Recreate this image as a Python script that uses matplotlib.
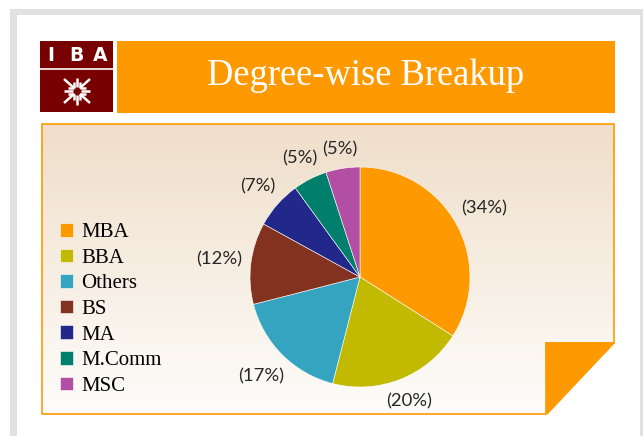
import matplotlib
matplotlib.use("Agg")
import matplotlib.pyplot as plt
import numpy as np
from matplotlib.patches import Rectangle, Polygon

degrees = ["MBA", "BBA", "Others", "BS", "MA", "M.Comm", "MSC"]
shares = [34, 20, 17, 12, 7, 5, 5]
colors = ["#FF9900", "#C2BA00", "#35A4C1", "#833220", "#21288A", "#017F6D", "#B24EA3"]
title = "Degree-wise Breakup"

W, H = 643, 436
fig = plt.figure(figsize=(W / 100, H / 100), dpi=100)
fig.patch.set_facecolor("white")

# background / decoration layer in pixel coordinates
bg = fig.add_axes([0, 0, 1, 1], zorder=0)
bg.set_xlim(0, W)
bg.set_ylim(H, 0)
bg.axis("off")

# light gray outer frame
bg.add_patch(Rectangle((10, 9), W, H, fc="#e1e1e1", ec="none"))
bg.add_patch(Rectangle((17, 15), 623, H, fc="white", ec="none"))

# logo
bg.add_patch(Rectangle((40, 41), 73, 71, fc="#780000", ec="none"))
bg.plot([40, 113], [69, 69], color="white", lw=1.2)
for ch, xx in zip("IBA", [51, 76, 100]):
    bg.text(xx, 55.5, ch, color="white", fontsize=13.5, fontweight="bold",
            family="DejaVu Sans", ha="center", va="center")
cx, cy = 77, 91
sym = dict(color="white", lw=1.8, solid_capstyle="butt")
bg.plot([cx, cx], [78, 87], **sym)
bg.plot([cx, cx], [95, 105], **sym)
bg.plot([64, 73], [cy, cy], **sym)
bg.plot([81, 90], [cy, cy], **sym)
for sx in (-1, 1):
    for sy in (-1, 1):
        tipx, tipy = cx + sx * 3, cy + sy * 3
        bg.plot([cx + sx * 13, tipx], [cy + sy * 12, tipy], **sym)
        bg.plot([tipx, tipx + sx * 6], [tipy, tipy], **sym)
        bg.plot([tipx, tipx], [tipy, tipy + sy * 6], **sym)

# title bar
bg.add_patch(Rectangle((117, 41), 498, 72, fc="#FF9900", ec="none"))
bg.text(366, 76, title, color="white", fontsize=26.3, family="Liberation Serif",
        ha="center", va="center")

# content panel with gradient and folded corner
panel = Polygon([(42, 124), (614, 124), (614, 343), (546, 343), (546, 414), (42, 414)],
                closed=True, fc="none", ec="#FF9900", lw=1.2, zorder=2)
bg.add_patch(panel)
top_c = np.array([239, 222, 201]) / 255
bot_c = np.array([254, 253, 251]) / 255
t = np.linspace(0, 1, 256)[:, None, None]
grad = top_c * (1 - t) + bot_c * t
im = bg.imshow(grad, extent=(42, 614, 414, 124), aspect="auto", zorder=1)
clip = Polygon(panel.get_xy(), closed=True, transform=bg.transData)
im.set_clip_path(clip)
bg.add_patch(Polygon([(546, 343), (614, 343), (547, 414)], closed=True,
                     fc="#FF9900", ec="#FF9900", lw=1, zorder=2))
bg.set_xlim(0, W)
bg.set_ylim(H, 0)

# pie
pcx, pcy, r = 360, 277, 110
ax = fig.add_axes([(pcx - r) / W, 1 - (pcy + r) / H, 2 * r / W, 2 * r / H], zorder=3)
ax.patch.set_alpha(0)
wedges, _, autotexts = ax.pie(
    shares, colors=colors, startangle=90, counterclock=False,
    autopct=lambda p: f"({p:.0f}%)", pctdistance=1.25,
    wedgeprops=dict(edgecolor="white", linewidth=0.4),
    textprops=dict(color="#262626", fontsize=13.3, family="Lato"))
ax.set_xlim(-1, 1)
ax.set_ylim(-1, 1)
ax.set_aspect("equal")

# outside-end labels: keep a fixed gap between the rim and the label box
fig.canvas.draw()
renderer = fig.canvas.get_renderer()
gap = 8
for w, txt in zip(wedges, autotexts):
    th = np.deg2rad((w.theta1 + w.theta2) / 2)
    bb = txt.get_window_extent(renderer)
    half = abs(np.cos(th)) * bb.width / 2 + abs(np.sin(th)) * bb.height / 2
    d = (r + gap + half) / r
    txt.set_position((d * np.cos(th), d * np.sin(th)))
    txt.set_ha("center")
    txt.set_va("center")

ax.legend(wedges, degrees, loc="upper left", frameon=False,
          bbox_to_anchor=(60 / W, 1 - 223 / H), bbox_transform=fig.transFigure,
          prop=dict(family="Liberation Serif", size=15),
          handlelength=0.63, handleheight=0.63, handletextpad=0.4,
          labelspacing=0.31, borderpad=0, borderaxespad=0)

fig.savefig("out.png", dpi=100)
